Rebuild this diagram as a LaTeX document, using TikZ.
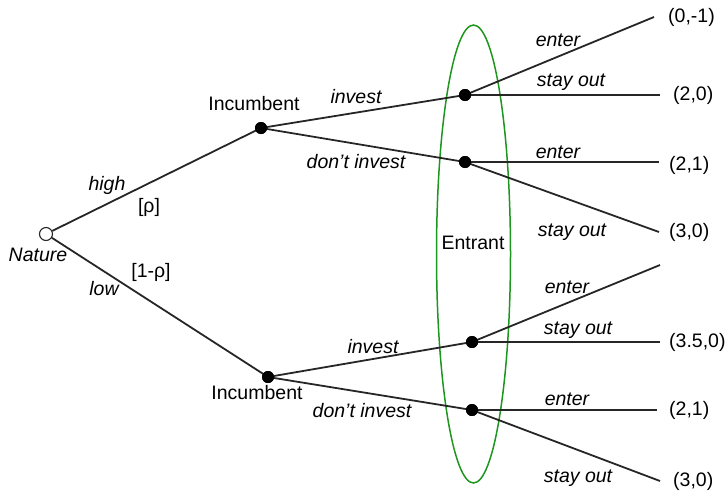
\documentclass[tikz,border=0pt]{standalone}
\usepackage{fontspec}
\setmainfont{Liberation Sans}
\definecolor{setgreen}{RGB}{30,150,30}
\begin{document}
\begin{tikzpicture}[x=1pt,y=-1pt,
  every node/.style={font=\fontsize{19.5}{22}\selectfont},
  edge/.style={line width=1.8pt, black!85},
  dec/.style={circle, fill=black, inner sep=0pt, minimum size=12pt},
  chance/.style={circle, draw=black!85, fill=white, line width=1.1pt, inner sep=0pt, minimum size=13pt},
  lab/.style={font=\fontsize{19.5}{22}\selectfont\itshape, inner sep=0pt},
  plain/.style={inner sep=0pt},
  pay/.style={anchor=west, inner sep=0pt}]
\useasboundingbox (0,0) rectangle (728,490);
% information set
\draw[line width=1.5pt, setgreen] (473.5,254) ellipse [x radius=37pt, y radius=229pt];
\node[plain] (entrant) at (473,243) {Entrant};
% nodes
\node[chance] (nat) at (46,234) {};
\node[dec] (i1) at (261,128) {};
\node[dec] (i2) at (268,377) {};
\node[dec] (e1) at (465,95) {};
\node[dec] (e2) at (465,162) {};
\node[dec] (e3) at (472,342) {};
\node[dec] (e4) at (472,410) {};
% terminal ends
\coordinate (t1) at (654,17);
\coordinate (t2) at (660,95);
\coordinate (t3) at (659,162);
\coordinate (t4) at (659,232);
\coordinate (t5) at (660,265);
\coordinate (t6) at (660,342);
\coordinate (t7) at (657,410);
\coordinate (t8) at (660,481);
% edges
\draw[edge] (nat) -- (i1.center);
\draw[edge] (nat) -- (i2.center);
\draw[edge] (i1.center) -- (e1.center);
\draw[edge] (i1.center) -- (e2.center);
\draw[edge] (i2.center) -- (e3.center);
\draw[edge] (i2.center) -- (e4.center);
\draw[edge] (e1.center) -- (t1);
\draw[edge] (e1.center) -- (t2);
\draw[edge] (e2.center) -- (t3);
\draw[edge] (e2.center) -- (t4);
\draw[edge] (e3.center) -- (t5);
\draw[edge] (e3.center) -- (t6);
\draw[edge] (e4.center) -- (t7);
\draw[edge] (e4.center) -- (t8);
% redraw dots on top
\foreach \n in {i1,i2,e1,e2,e3,e4} \fill (\n) circle (6pt);
% labels
\node[lab] (lnat) at (38,255) {Nature};
\node[lab] (lhigh) at (107,185) {high};
\node[plain] (lrho) at (149,207) {[ρ]};
\node[plain] (l1rho) at (151,272) {[1-ρ]};
\node[lab] (llow) at (104,289) {low};
\node[plain] (inc1) at (254,104) {Incumbent};
\node[plain] (inc2) at (257,393) {Incumbent};
\node[lab] (inv1) at (356,97) {invest};
\node[lab] (dinv1) at (356,162) {don’t invest};
\node[lab] (inv2) at (373,347) {invest};
\node[lab] (dinv2) at (362,411) {don’t invest};
\node[lab] (en1) at (558,40) {enter};
\node[lab] (so1) at (571,82) {stay out};
\node[lab] (en2) at (558,152) {enter};
\node[lab] (so2) at (572,232) {stay out};
\node[lab] (en3) at (567,287) {enter};
\node[lab] (so3) at (578,330) {stay out};
\node[lab] (en4) at (567,399) {enter};
\node[lab] (so4) at (578,478) {stay out};
% payoffs
\node[pay] (p1) at (668,17) {(0,-1)};
\node[pay] (p2) at (673,95) {(2,0)};
\node[pay] (p3) at (669,165) {(2,1)};
\node[pay] (p4) at (669,232) {(3,0)};
\node[pay] (p6) at (669,342) {(3.5,0)};
\node[pay] (p7) at (669,410) {(2,1)};
\node[pay] (p8) at (673,481) {(3,0)};
\end{tikzpicture}
\end{document}
